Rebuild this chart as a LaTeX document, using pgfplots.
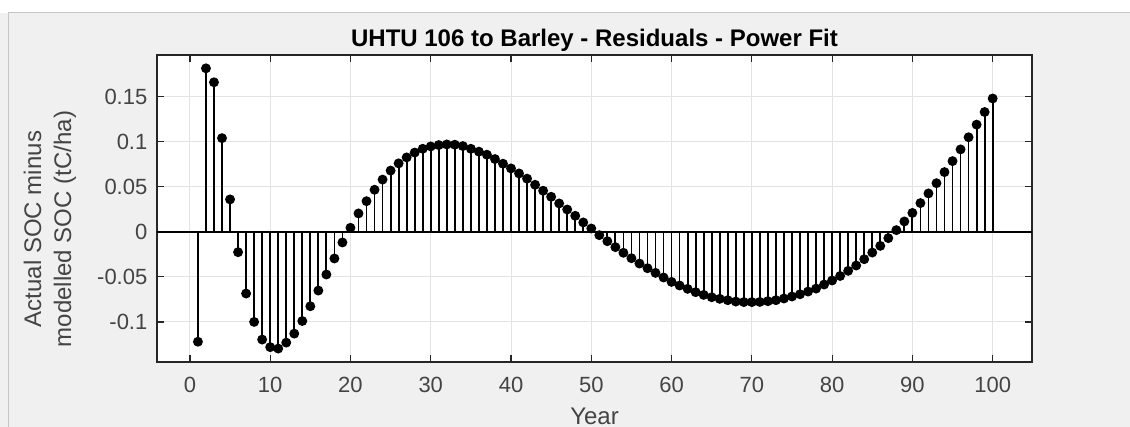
\documentclass[border=0pt]{standalone}
\usepackage{fontspec}
\setmainfont{Liberation Sans}
\usepackage{pgfplots}
\usepackage{pgfplotstable}
\pgfplotsset{compat=1.18}
\definecolor{panel}{HTML}{F0F0F0}
\definecolor{axcol}{HTML}{262626}
\definecolor{labcol}{HTML}{444444}

% residuals, year 1..100
\pgfplotstableread{
year res
1 -0.122
2 0.1815
3 0.166
4 0.104
5 0.036
6 -0.0226
7 -0.0685
8 -0.100
9 -0.1196
10 -0.128
11 -0.1296
12 -0.123
13 -0.113
14 -0.099
15 -0.0826
16 -0.0652
17 -0.0474
18 -0.0296
19 -0.0118
20 0.0045
21 0.0204
22 0.034
23 0.0467
24 0.058
25 0.068
26 0.076
27 0.0826
28 0.088
29 0.0922
30 0.0948
31 0.0963
32 0.097
33 0.0967
34 0.0952
35 0.0922
36 0.089
37 0.0856
38 0.0808
39 0.0756
40 0.0704
41 0.0648
42 0.059
43 0.0522
44 0.0456
45 0.0389
46 0.0315
47 0.0248
48 0.0178
49 0.0104
50 0.0037
51 -0.0037
52 -0.0104
53 -0.017
54 -0.0233
55 -0.0293
56 -0.0352
57 -0.0404
58 -0.0456
59 -0.0507
60 -0.0556
61 -0.0596
62 -0.0633
63 -0.067
64 -0.070
65 -0.0726
66 -0.0744
67 -0.0759
68 -0.0774
69 -0.078
70 -0.078
71 -0.0778
72 -0.077
73 -0.0759
74 -0.074
75 -0.0718
76 -0.0693
77 -0.0663
78 -0.063
79 -0.0585
80 -0.054
81 -0.049
82 -0.0433
83 -0.0374
84 -0.0304
85 -0.023
86 -0.0156
87 -0.007
88 0.0019
89 0.0115
90 0.021
91 0.0319
92 0.0426
93 0.054
94 0.0663
95 0.0785
96 0.0915
97 0.105
98 0.119
99 0.133
100 0.148
}\residuals

\begin{document}
\begin{tikzpicture}
\useasboundingbox (0,0) rectangle (565pt,213.5pt);
\fill[white] (0,0) rectangle (565pt,213.5pt);
\fill[panel] (0,0) rectangle (565pt,207pt);
\draw[gray!45, line width=0.5pt] (4pt,0) -- (4pt,207pt) -- (565pt,207pt);

\begin{axis}[
  at={(78.5pt,32.5pt)}, anchor=south west,
  scale only axis, width=437.5pt, height=153.5pt,
  xmin=-4.1, xmax=104.9, ymin=-0.1445, ymax=0.1963,
  axis background/.style={fill=white},
  axis line style={axcol, line width=0.7pt},
  xtick={0,10,20,30,40,50,60,70,80,90,100},
  xticklabels={0,10,20,30,40,50,60,70,80,90,100},
  ytick={-0.1,-0.05,0,0.05,0.1,0.15},
  yticklabels={-0.1,-0.05,0,0.05,0.1,0.15},
  tick align=inside, major tick length=3.5pt,
  tick style={axcol, line width=0.6pt},
  grid=major, major grid style={gray!22, line width=0.5pt},
  ticklabel style={font=\fontsize{11}{13}\selectfont, text=labcol},
  xticklabel style={yshift=-4pt},
  yticklabel style={xshift=-1.3pt},
  title={\textbf{UHTU 106 to Barley - Residuals - Power Fit}},
  title style={at={(axis description cs:0.5,1)}, anchor=base, yshift=-1.7pt,
    font=\fontsize{12}{14}\selectfont},
  xlabel={Year},
  xlabel style={at={(axis description cs:0.5,0)}, anchor=north, inner sep=0pt,
    yshift=-23pt, font=\fontsize{12}{14}\selectfont, text=labcol},
]
\draw[black, line width=1pt] (axis cs:-4.1,0) -- (axis cs:104.9,0);
\addplot[ycomb, black, line width=0.9pt, mark=*, mark size=2pt,
  mark options={solid, fill=black}] table[x=year, y=res] {\residuals};
\end{axis}

\node[rotate=90, align=center, text=labcol, font=\fontsize{12}{15}\selectfont]
  at (25pt,99pt) {Actual SOC minus\\modelled SOC (tC/ha)};
\end{tikzpicture}
\end{document}
